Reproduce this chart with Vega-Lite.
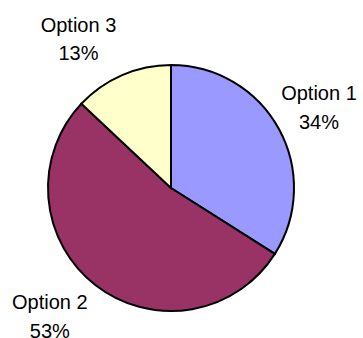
{
  "$schema": "https://vega.github.io/schema/vega-lite/v6.json",
  "width": 342,
  "height": 300,
  "padding": {"top": 38, "left": 0, "right": 21, "bottom": 0},
  "autosize": "none",
  "background": "white",
  "data": {
    "values": [
      {"category": "Option 1", "value": 34, "order": 1, "label": "Option 1\n34%"},
      {"category": "Option 2", "value": 53, "order": 2, "label": "Option 2\n53%"},
      {"category": "Option 3", "value": 13, "order": 3, "label": "Option 3\n13%"}
    ]
  },
  "encoding": {
    "theta": {"field": "value", "type": "quantitative", "stack": true},
    "order": {"field": "order", "type": "quantitative"}
  },
  "layer": [
    {
      "mark": {"type": "arc", "outerRadius": 123, "stroke": "black", "strokeWidth": 2},
      "encoding": {
        "color": {
          "field": "category",
          "type": "nominal",
          "scale": {"domain": ["Option 1", "Option 2", "Option 3"], "range": ["#9999FF", "#993366", "#FFFFCC"]},
          "legend": null
        }
      }
    },
    {
      "mark": {
        "type": "text",
        "radius": 170,
        "dx": {"expr": "datum.order == 1 ? -1 : datum.order == 2 ? -17 : -25"},
        "dy": {"expr": "datum.order == 1 ? -12 : datum.order == 2 ? -19 : -6"},
        "align": "center",
        "baseline": "middle",
        "font": "Liberation Sans",
        "fontSize": 20,
        "lineBreak": "\n",
        "lineHeight": 28.5,
        "color": "black"
      },
      "encoding": {
        "text": {"field": "label", "type": "nominal"}
      }
    }
  ],
  "view": {"stroke": null}
}
